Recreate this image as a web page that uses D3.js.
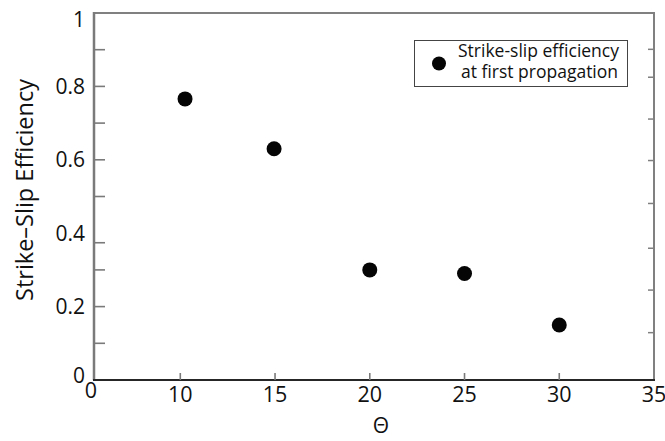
<!DOCTYPE html>
<html>
<head>
<meta charset="utf-8">
<script src="https://cdn.jsdelivr.net/npm/d3@7"></script>
<style>
  html, body { margin: 0; padding: 0; background: #fff; }
  svg { display: block; }
  text { font-family: "Open Sans", Lato, sans-serif; fill: #111; }
</style>
</head>
<body>
<svg id="chart" width="665" height="441"></svg>
<script>
// Strike-slip efficiency at first propagation vs. angle Θ
const theta = [10.25, 14.95, 20, 25, 30];
const efficiency = [0.766, 0.630, 0.300, 0.290, 0.150];

const xTickLabels = [0, 10, 15, 20, 25, 30, 35];
const xTickMarks = [10, 15, 20, 25, 30];
const yTickLabels = [0, 0.2, 0.4, 0.6, 0.8, 1];
const yTickMarks = [0.1, 0.2, 0.3, 0.374, 0.5, 0.6, 0.7, 0.8, 0.9];
const yRightTickMarks = [0.129, 0.245, 0.359, 0.481, 0.598, 0.711, 0.825, 0.901];

const legendLines = ["Strike-slip efficiency", "at first propagation"];
const xTitle = "Θ";
const yTitle = "Strike–Slip Efficiency";

const plot = { left: 94, right: 654, top: 13, bottom: 380 };

const svg = d3.select("#chart");

// The axis runs 0→10 over a shorter span than the rest
const x = d3.scaleLinear()
  .domain([0, 10, 35])
  .range([plot.left, 180.3, plot.right]);

const y = d3.scaleLinear()
  .domain([0, 1])
  .range([plot.bottom, plot.top]);

// Frame: top, left, right in grey; bottom axis darker
const frame = svg.append("g");
frame.append("line")
  .attr("x1", x(0)).attr("x2", x(35))
  .attr("y1", y(1)).attr("y2", y(1))
  .attr("stroke", "#808080").attr("stroke-width", 2);
frame.append("line")
  .attr("x1", x(0)).attr("x2", x(0))
  .attr("y1", y(1) - 1).attr("y2", y(0))
  .attr("stroke", "#7a7a7a").attr("stroke-width", 2.5);
frame.append("line")
  .attr("x1", x(35)).attr("x2", x(35))
  .attr("y1", y(1) - 1).attr("y2", y(0))
  .attr("stroke", "#808080").attr("stroke-width", 2);

// Left inward ticks
svg.append("g").selectAll("line")
  .data(yTickMarks).join("line")
  .attr("x1", x(0)).attr("x2", x(0) + 11)
  .attr("y1", d => y(d)).attr("y2", d => y(d))
  .attr("stroke", "#7a7a7a").attr("stroke-width", 1.6);

// Right inward ticks
svg.append("g").selectAll("line")
  .data(yRightTickMarks).join("line")
  .attr("x1", x(35) - 6).attr("x2", x(35))
  .attr("y1", d => y(d)).attr("y2", d => y(d))
  .attr("stroke", "#808080").attr("stroke-width", 1.5);

// Bottom ticks pointing up
svg.append("g").selectAll("line")
  .data(xTickMarks).join("line")
  .attr("x1", d => x(d)).attr("x2", d => x(d))
  .attr("y1", y(0)).attr("y2", y(0) - 7)
  .attr("stroke", "#7a7a7a").attr("stroke-width", 1.6);

frame.append("line")
  .attr("x1", x(0) - 1).attr("x2", x(35) + 1)
  .attr("y1", y(0)).attr("y2", y(0))
  .attr("stroke", "#262626").attr("stroke-width", 1.8);

// Tick labels (end labels kept inside the frame's vertical extent)
svg.append("g").selectAll("text")
  .data(yTickLabels).join("text")
  .attr("x", 85)
  .attr("y", d => Math.min(Math.max(y(d), plot.top + 6), plot.bottom - 4.5))
  .attr("dy", "0.36em")
  .attr("text-anchor", "end")
  .attr("font-size", 21)
  .text(d => d3.format("")(d));

svg.append("g").selectAll("text")
  .data(xTickLabels).join("text")
  .attr("x", d => x(d) - (d === 0 ? 3 : 0))
  .attr("y", d => d === 0 ? 398 : 401.5)
  .attr("text-anchor", "middle")
  .attr("font-size", 21.5)
  .text(d => d);

// Axis titles
svg.append("text")
  .attr("x", 381)
  .attr("y", 433)
  .attr("text-anchor", "middle")
  .attr("font-size", 21)
  .text(xTitle);

svg.append("text")
  .attr("transform", "translate(33, 190) rotate(-90)")
  .attr("text-anchor", "middle")
  .attr("font-size", 23.5)
  .text(yTitle);

// Data points
svg.append("g").selectAll("circle")
  .data(theta.map((t, i) => [t, efficiency[i]])).join("circle")
  .attr("cx", d => x(d[0]))
  .attr("cy", d => y(d[1]))
  .attr("r", 7.5)
  .attr("fill", "#050505");

// Legend
const legend = svg.append("g");
legend.append("rect")
  .attr("x", 414.5).attr("y", 40.5)
  .attr("width", 213).attr("height", 46)
  .attr("fill", "#fff")
  .attr("stroke", "#444").attr("stroke-width", 1);
legend.append("circle")
  .attr("cx", 439).attr("cy", 63.5).attr("r", 7)
  .attr("fill", "#050505");
legend.selectAll("text.entry")
  .data(legendLines).join("text")
  .attr("class", "entry")
  .attr("x", (d, i) => i === 0 ? 458 : 461)
  .attr("y", (d, i) => i === 0 ? 57 : 78)
  .attr("font-size", 17.5)
  .text(d => d);
</script>
</body>
</html>
